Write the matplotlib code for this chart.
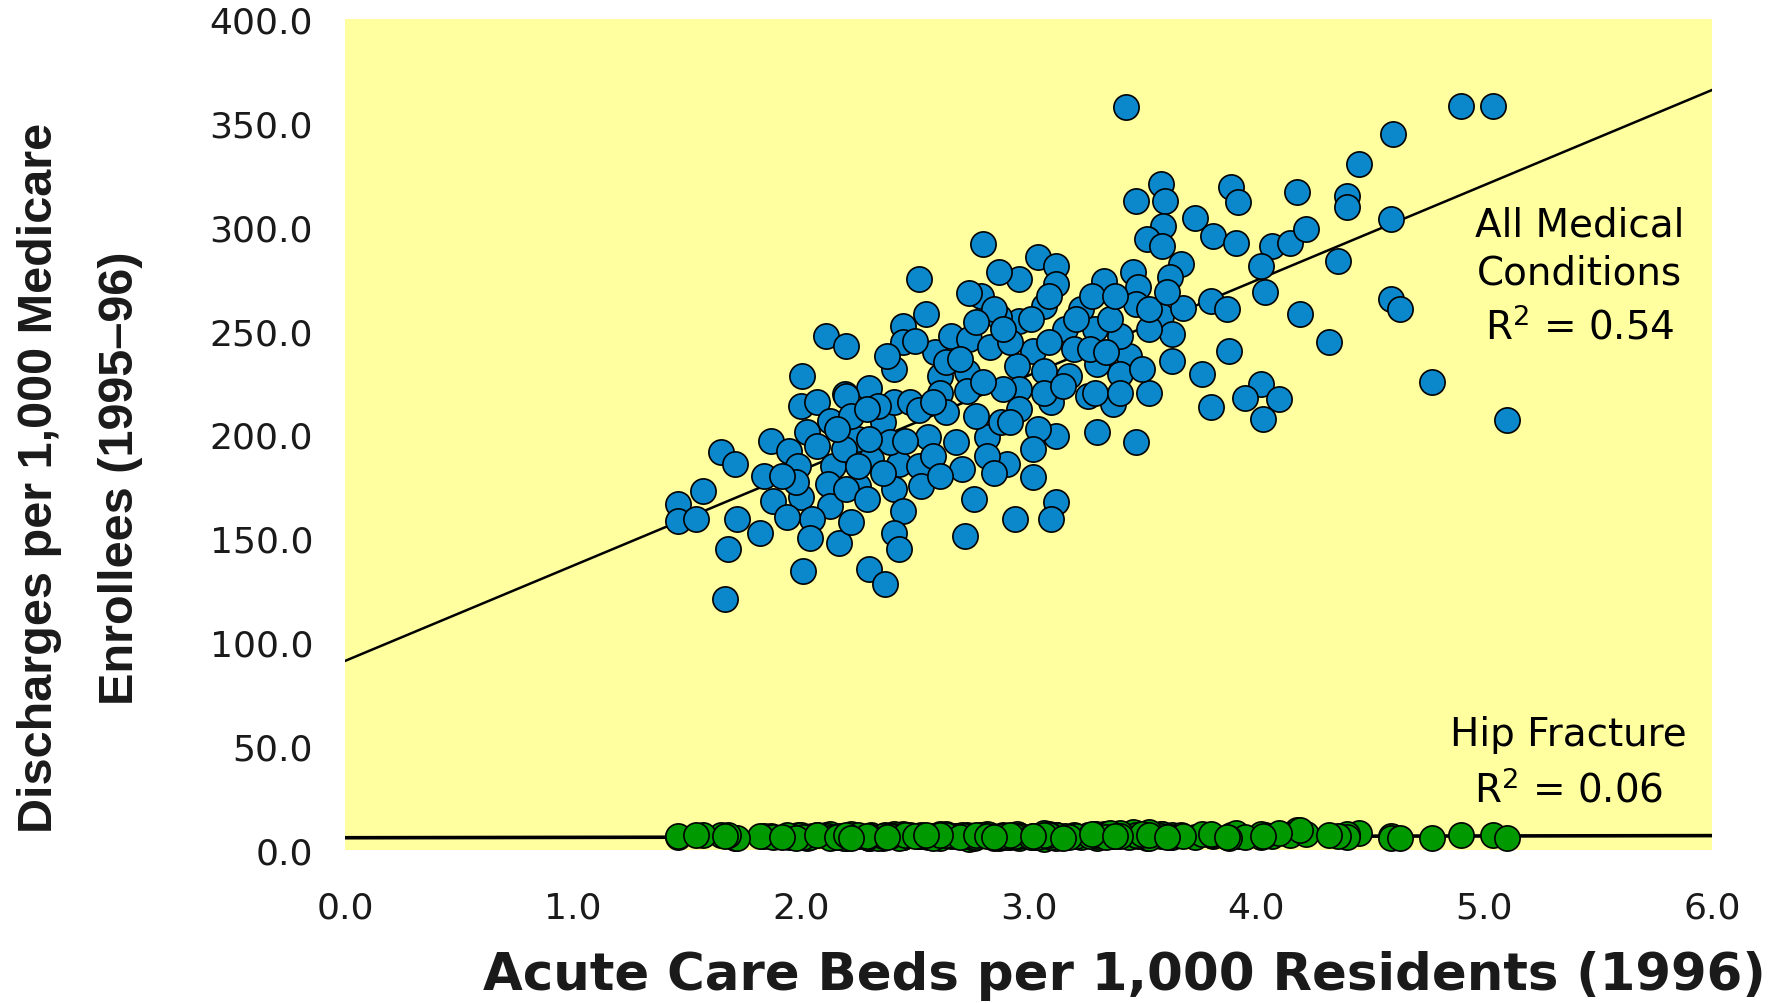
import numpy as np
import matplotlib
matplotlib.use("Agg")
import matplotlib.pyplot as plt


# acute care beds per 1,000 residents for each hospital referral region
beds = [
    3.43, 4.90, 5.04, 4.60, 4.45, 3.58, 3.60, 3.47, 3.89, 3.92,
    4.18, 4.40, 4.40, 4.59, 3.73, 3.59, 3.52, 3.585, 3.81, 3.91,
    4.07, 4.15, 4.22, 4.02, 4.36, 4.04, 4.19, 4.32, 4.59, 4.63,
    4.77, 5.10, 4.02, 3.95, 4.10, 4.03, 3.80, 3.58, 3.88, 3.76,
    3.63, 3.63, 3.53, 3.44, 3.40, 3.53, 3.47, 3.37, 3.26, 3.30,
    3.67, 3.62, 3.46, 3.48, 3.33, 3.04, 3.12, 3.12, 2.96, 3.07,
    3.23, 3.47, 3.68, 3.80, 3.87, 2.96, 3.16, 3.29, 3.40, 3.02,
    3.20, 3.07, 3.30, 2.95, 2.96, 3.29, 2.80, 2.52, 2.87, 2.79,
    2.74, 2.87, 2.45, 2.45, 2.11, 2.20, 2.005, 2.41, 2.59, 2.66,
    2.74, 2.83, 2.92, 2.73, 2.61, 2.30, 2.195, 2.73, 2.61, 2.89,
    2.00, 2.07, 2.20, 2.13, 2.03, 1.87, 1.95, 1.65, 1.71, 1.84,
    1.99, 2.14, 2.25, 2.36, 2.41, 2.43, 2.41, 2.45, 2.41, 2.43,
    2.12, 2.00, 1.88, 2.13, 2.05, 1.94, 1.82, 1.72, 1.57, 1.46,
    1.46, 1.54, 2.04, 2.17, 1.68, 2.01, 1.67, 2.30, 2.37, 2.25,
    1.98, 2.31, 2.39, 2.19, 2.48, 2.96, 3.10, 3.12, 3.04, 2.82,
    2.68, 2.56, 2.46, 2.52, 2.71, 2.905, 3.02, 2.53, 2.76, 2.94,
    3.12, 3.10, 2.72, 2.64, 2.34, 2.52, 2.64, 2.77, 2.88,
    2.70, 2.80, 2.85, 2.89, 2.77, 3.01, 3.09, 3.21, 3.36, 3.27,
    3.09, 3.34, 3.50, 3.18, 3.40, 3.07, 3.15, 2.58, 2.92, 2.58,
    2.82, 2.61, 2.85, 3.02, 2.22, 2.29, 2.36, 2.25, 1.92, 2.07,
    2.16, 2.30, 2.20, 2.29, 2.22, 3.28, 3.38, 3.53, 3.61, 2.50,
    2.55, 2.38,
]

# discharges per 1,000 enrollees, all medical conditions
all_medical = [
    357.6, 358.3, 358.3, 344.6, 330.2, 320.8, 312.6, 312.6, 319.0, 312.0,
    316.5, 314.9, 309.3, 303.7, 304.0, 300.5, 294.1, 290.9, 295.7, 292.4,
    290.9, 292.4, 298.9, 281.2, 283.6, 268.4, 258.0, 244.3, 265.2, 260.4,
    225.1, 207.0, 224.3, 217.8, 217.1, 207.5, 213.1, 257.1, 240.3, 229.1,
    235.5, 248.4, 250.8, 237.9, 229.1, 220.2, 196.2, 214.7, 218.6, 201.0,
    282.0, 275.6, 278.0, 270.8, 274.0, 285.2, 281.2, 272.4, 274.8, 261.9,
    260.4, 262.8, 261.1, 264.4, 260.4, 254.8, 250.8, 250.8, 247.6, 240.3,
    241.2, 230.7, 233.9, 233.1, 221.9, 220.2, 291.7, 274.8, 278.0, 266.8,
    268.0, 256.4, 252.3, 244.3, 247.6, 242.7, 228.3, 231.5, 239.6, 247.6,
    246.0, 241.9, 244.3, 229.9, 228.3, 222.6, 219.5, 221.0, 220.2, 221.9,
    213.9, 215.4, 218.6, 206.6, 201.0, 197.0, 192.2, 191.4, 185.8, 180.1,
    185.0, 185.0, 197.8, 205.8, 215.4, 185.8, 173.8, 163.3, 152.8, 144.9,
    176.2, 169.7, 168.1, 165.7, 159.3, 160.1, 152.8, 159.3, 172.9, 166.5,
    158.5, 159.3, 150.4, 148.0, 144.9, 134.4, 120.8, 135.3, 128.0, 175.4,
    176.9, 188.2, 196.2, 193.0, 215.4, 212.3, 215.4, 199.4, 202.6, 198.6,
    196.2, 198.6, 197.0, 185.0, 183.4, 185.8, 179.3, 175.4, 168.9, 159.3,
    167.3, 159.3, 151.3, 234.7, 213.8, 212.0, 211.0, 209.0, 206.0,
    236.3, 225.1, 260.4, 250.8, 254.0, 255.6, 266.8, 255.6, 255.6, 241.2,
    244.3, 239.5, 231.5, 228.3, 220.2, 220.2, 223.5, 215.4, 205.8, 189.8,
    189.8, 180.1, 181.7, 193.0, 209.0, 212.3, 181.7, 185.0, 180.1, 194.6,
    202.6, 197.8, 173.8, 169.0, 157.7, 266.8, 266.8, 260.4, 268.4, 245.0,
    258.0, 238.0,
]

# discharges per 1,000 enrollees, hip fracture
hip_fracture = [
    7.2, 7.0, 7.4, 6.3, 8.0, 7.6, 6.8, 8.4, 7.0, 6.6,
    9.4, 7.8, 6.2, 6.9, 6.4, 7.1, 6.0, 7.5, 6.7, 8.1,
    6.5, 7.3, 7.9, 6.1, 6.8, 7.0, 9.6, 7.2, 6.0, 5.6,
    5.8, 6.0, 7.7, 6.4, 8.2, 6.6, 7.4, 6.9, 5.9, 7.5,
    6.3, 7.0, 8.6, 6.2, 7.1, 5.9, 7.8, 6.5, 7.3, 6.0,
    7.1, 6.4, 8.8, 6.9, 7.6, 6.3, 5.7, 7.2, 6.6, 8.0,
    6.2, 7.4, 6.8, 7.9, 6.1, 7.0, 6.5, 7.7, 8.3, 6.4,
    7.2, 5.4, 6.9, 7.5, 6.0, 7.8, 7.1, 6.6, 5.9, 7.3,
    6.8, 6.2, 7.6, 6.4, 7.0, 5.8, 6.7, 7.4, 6.1, 6.9,
    5.5, 7.2, 6.3, 6.9, 7.7, 6.0, 6.6, 7.1, 5.9, 7.4,
    6.5, 7.0, 6.2, 7.6, 5.8, 6.9, 6.4, 7.2, 6.0, 6.7,
    7.3, 6.1, 6.8, 5.7, 7.0, 6.4, 7.5, 6.2, 6.9, 6.0,
    6.6, 7.4, 6.3, 5.9, 6.8, 7.1, 6.5, 6.0, 7.2, 6.4,
    6.9, 7.3, 6.1, 6.7, 7.0, 6.3, 6.8, 5.9, 7.2, 6.5,
    6.0, 7.1, 6.6, 5.8, 7.4, 6.9, 6.2, 7.0, 6.4, 7.6,
    6.8, 6.1, 7.3, 6.5, 7.0, 6.2, 6.7, 7.1, 5.9, 6.6,
    7.2, 6.4, 6.9, 7.5, 6.0, 6.8, 7.3, 6.1, 6.7,
    6.4, 7.1, 6.0, 6.8, 7.3, 6.2, 7.5, 6.6, 8.1, 6.9,
    7.0, 6.3, 7.7, 6.1, 6.8, 7.2, 5.6, 6.5, 7.4, 6.0,
    6.7, 7.1, 6.3, 6.9, 7.5, 6.2, 6.6, 7.0, 6.4, 7.2,
    6.1, 6.8, 7.3, 6.5, 6.0, 7.6, 6.9, 7.2, 6.3, 6.7,
    7.0, 6.4,
]

# fitted lines: (intercept, slope)
fit_all = (91.0, 45.8)
fit_hip = (5.9, 0.17)

x_ticks = [0, 1, 2, 3, 4, 5, 6]
y_ticks = [0, 50, 100, 150, 200, 250, 300, 350, 400]

x = np.array(beds)
y_all = np.array(all_medical)
y_hip = np.array(hip_fracture)

plt.rcParams['font.family'] = 'DejaVu Sans'

fig = plt.figure(figsize=(17.84, 10.04), dpi=100)
ax = fig.add_axes([0.1934, 0.1524, 0.7662, 0.8277])
ax.set_facecolor('#ffff9f')
for s in ax.spines.values():
    s.set_visible(False)

line_x = np.array([0.0, 6.0])
ax.plot(line_x, fit_all[0] + fit_all[1] * line_x, color='black', lw=1.8, zorder=1)
ax.plot(line_x, fit_hip[0] + fit_hip[1] * line_x, color='black', lw=2.6, zorder=1)

ax.scatter(x, y_all, s=330, color='#0b88cc', edgecolor='black', linewidth=1.2,
           zorder=3, clip_on=False)
ax.scatter(x, y_hip, s=330, color='#009a00', edgecolor='black', linewidth=1.2,
           zorder=3, clip_on=False)

ax.set_xlim(0, 6)
ax.set_ylim(0, 400)
ax.set_xticks(x_ticks)
ax.set_xticklabels(['%.1f' % v for v in x_ticks])
ax.set_yticks(y_ticks)
ax.set_yticklabels(['%.1f' % v for v in y_ticks])
ax.tick_params(axis='both', length=0, labelsize=26, colors='#1a1a1a')
ax.tick_params(axis='y', pad=23)
ax.tick_params(axis='x', pad=29)

ax.text(5.42, 301, 'All Medical', fontsize=28, ha='center', va='center')
ax.text(5.42, 278, 'Conditions', fontsize=28, ha='center', va='center')
ax.text(5.42, 252, r'R$^2$ = 0.54', fontsize=28, ha='center', va='center')
ax.text(5.37, 56, 'Hip Fracture', fontsize=28, ha='center', va='center')
ax.text(5.37, 29, r'R$^2$ = 0.06', fontsize=28, ha='center', va='center')

fig.text(0.63, 0.028, 'Acute Care Beds per 1,000 Residents (1996)',
         fontsize=37, fontweight='bold', ha='center', va='center', color='#1a1a1a')
# axis title in two rotated lines, narrower bold face
fig.text(0.0224, 0.524, 'Discharges per 1,000 Medicare', rotation=90,
         family='Liberation Sans', fontsize=35, fontweight='bold',
         ha='center', va='center', color='#1a1a1a')
fig.text(0.0673, 0.524, 'Enrollees (1995\u201396)', rotation=90,
         family='Liberation Sans', fontsize=35, fontweight='bold',
         ha='center', va='center', color='#1a1a1a')

fig.savefig('out.png', dpi=100)
